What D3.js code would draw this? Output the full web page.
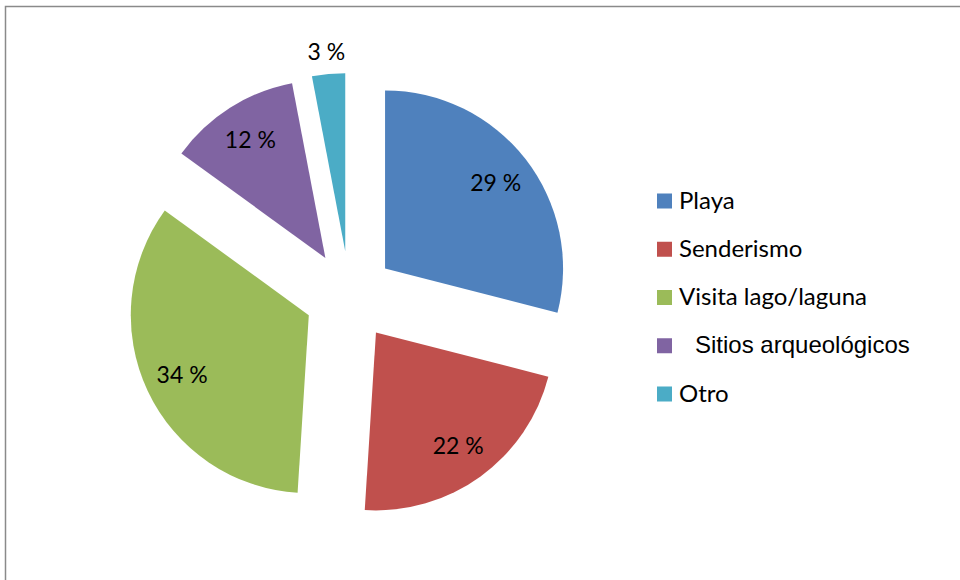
<!DOCTYPE html>
<html>
<head>
<meta charset="utf-8">
<script src="https://cdn.jsdelivr.net/npm/d3@7"></script>
<style>
  body { margin: 0; background: #fff; }
</style>
</head>
<body>
<div id="chart"></div>
<script>
var categories = ["Playa", "Senderismo", "Visita lago/laguna", "Sitios arqueológicos", "Otro"];
var values = [29, 22, 34, 12, 3];
var colors = ["#4F81BD", "#C0504D", "#9BBB59", "#8064A2", "#4BACC6"];

(function () {
    var width = 960,
        height = 580;

    var svg = d3.select("#chart")
        .append("svg")
        .attr("width", width)
        .attr("height", height);

    // chart area frame (runs off the right and bottom edges)
    svg.append("rect")
        .attr("x", 5.5)
        .attr("y", 6.5)
        .attr("width", 1000)
        .attr("height", 700)
        .attr("fill", "none")
        .attr("stroke", "#8a8a8a")
        .attr("stroke-width", 1.5);

    var cx = 349.5, cy = 296, radius = 178, explode = 45;

    var data = categories.map(function (c, i) {
        return { name: c, value: values[i], color: colors[i] };
    });

    var pie = d3.pie().sort(null).value(function (d) { return d.value; });
    var arc = d3.arc().innerRadius(0).outerRadius(radius);

    var g = svg.append("g").attr("transform", "translate(" + cx + "," + cy + ")");

    var slices = g.selectAll(".slice")
        .data(pie(data))
        .enter().append("g")
        .attr("class", "slice")
        .attr("transform", function (d) {
            var a = (d.startAngle + d.endAngle) / 2;
            return "translate(" + (Math.sin(a) * explode) + "," + (-Math.cos(a) * explode) + ")";
        });

    slices.append("path")
        .attr("d", arc)
        .attr("fill", function (d) { return d.data.color; });

    function labelR(d) { return d.data.value < 5 ? radius + 22 : 140; }

    slices.append("text")
        .attr("x", function (d) {
            var a = (d.startAngle + d.endAngle) / 2;
            return Math.sin(a) * labelR(d);
        })
        .attr("y", function (d) {
            var a = (d.startAngle + d.endAngle) / 2;
            return -Math.cos(a) * labelR(d) + 8;
        })
        .attr("text-anchor", "middle")
        .attr("font-family", "Lato, sans-serif")
        .attr("font-size", "23px")
        .attr("fill", "#000")
        .text(function (d) { return d.data.value + " %"; });

    // legend
    var legend = svg.append("g").attr("transform", "translate(657,0)");
    var ly = d3.scalePoint().domain(categories).range([201, 394]);

    var items = legend.selectAll(".item")
        .data(data)
        .enter().append("g")
        .attr("class", "item")
        .attr("transform", function (d) { return "translate(0," + ly(d.name) + ")"; });

    items.append("rect")
        .attr("x", 0)
        .attr("y", -7.5)
        .attr("width", 15)
        .attr("height", 15)
        .attr("fill", function (d) { return d.color; });

    items.append("text")
        .attr("x", function (d, i) { return i === 3 ? 38 : 22; })
        .attr("y", 7.5)
        .attr("font-family", function (d, i) { return i === 3 ? "'Liberation Sans', Arial, sans-serif" : "Lato, sans-serif"; })
        .attr("font-size", function (d, i) { return i === 3 ? "24px" : "24px"; })
        .attr("fill", "#000")
        .text(function (d) { return d.name; });
})();
</script>
</body>
</html>
